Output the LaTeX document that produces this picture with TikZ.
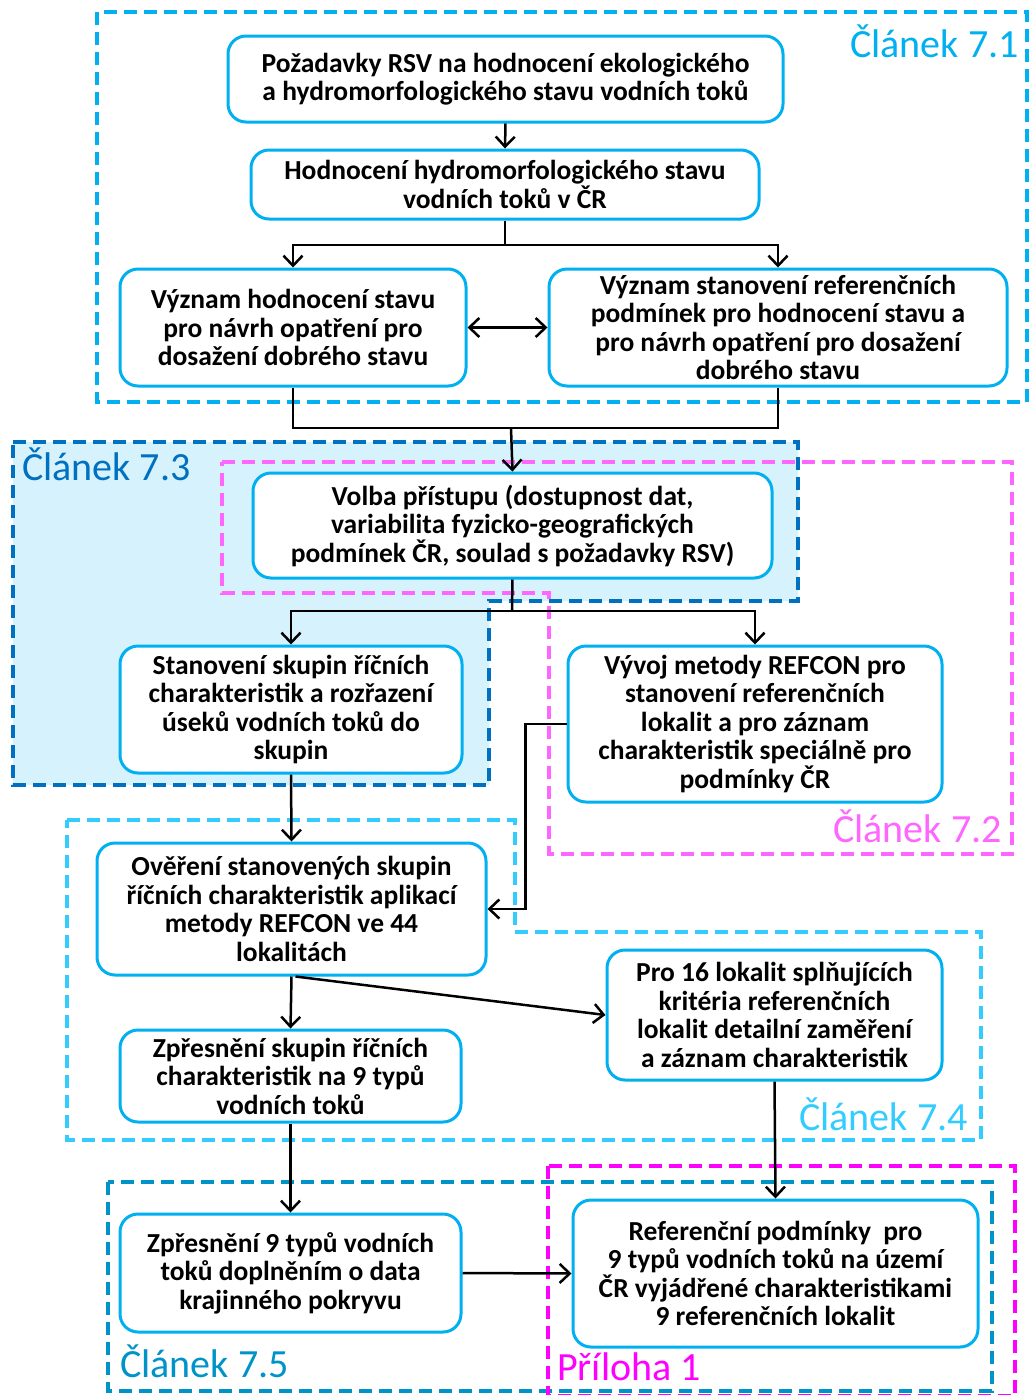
\documentclass[tikz,border=0pt]{standalone}
\usepackage{fontspec}
\setmainfont{Carlito}
\usetikzlibrary{arrows.meta}
\definecolor{boxc}{RGB}{0,176,240}
\definecolor{cA}{RGB}{0,176,240}
\definecolor{cB}{RGB}{0,112,192}
\definecolor{cBfill}{RGB}{214,242,252}
\definecolor{cC}{RGB}{255,102,255}
\definecolor{cD}{RGB}{51,204,255}
\definecolor{cE}{RGB}{0,147,200}
\definecolor{cF}{RGB}{255,0,255}
\tikzset{
  box/.style={draw=boxc, line width=3pt, rounded corners=18pt, fill=white, align=center, inner sep=0pt,
    font=\bfseries\fontsize{27.5}{28.5}\selectfont},
  frame/.style={line width=3.5pt, dash pattern=on 13pt off 7pt},
  lab/.style={inner sep=0pt, font=\fontsize{40}{44}\selectfont},
  conn/.style={line width=2.5pt, draw=black},
  arr/.style={conn, -{Straight Barb[length=10pt,width=19pt]}},
}
\begin{document}
\begin{tikzpicture}[x=1pt,y=-1pt]
\useasboundingbox (0,0) rectangle (1031,1395);
% frames
\filldraw[frame, draw=cB, fill=cBfill] (13,442) -- (798,442) -- (798,601) -- (489,601) -- (489,785) -- (13,785) -- cycle;
\draw[frame, draw=cA] (97,12) rectangle (1027,402);
\draw[frame, draw=cC] (222,462) -- (1012,462) -- (1012,854) -- (549,854) -- (549,593) -- (222,593) -- cycle;
\draw[frame, draw=cD] (67,820) -- (515,820) -- (515,932) -- (981,932) -- (981,1140) -- (67,1140) -- cycle;
\draw[frame, draw=cE] (108,1182) rectangle (992,1391);
\draw[frame, draw=cF] (548,1166) rectangle (1015,1396);
% labels
\node[lab, text=cA, anchor=base east] (l71) at (1019,57) {Článek 7.1};
\node[lab, text=cB, anchor=base west] (l73) at (22,480) {Článek 7.3};
\node[lab, text=cC, anchor=base east] (l72) at (1002,842) {Článek 7.2};
\node[lab, text=cD, anchor=base east] (l74) at (968,1130) {Článek 7.4};
\node[lab, text=cE, anchor=base west] (l75) at (120,1377) {Článek 7.5};
\node[lab, text=cF, anchor=base west] (lp1) at (557,1380) {Příloha 1};
% boxes
\node[box, minimum width=555pt, minimum height=86pt] (A) at (505.5,79) {Požadavky RSV na hodnocení ekologického\\a hydromorfologického stavu vodních toků};
\node[box, minimum width=508pt, minimum height=69pt] (B) at (505,184.5) {Hodnocení hydromorfologického stavu\\vodních toků v ČR};
\node[box, minimum width=346pt, minimum height=117pt] (C) at (293,327.5) {Význam hodnocení stavu\\pro návrh opatření pro\\dosažení dobrého stavu};
\node[box, minimum width=458pt, minimum height=117pt] (D) at (778,327.5) {Význam stanovení referenčních\\podmínek pro hodnocení stavu a\\pro návrh opatření pro dosažení\\dobrého stavu};
\node[box, minimum width=519pt, minimum height=105pt] (E) at (512.5,525.5) {Volba přístupu (dostupnost dat,\\variabilita fyzicko-geografických\\podmínek ČR, soulad s požadavky RSV)};
\node[box, minimum width=342pt, minimum height=127pt] (F) at (291,709.5) {Stanovení skupin říčních\\charakteristik a rozřazení\\úseků vodních toků do\\skupin};
\node[box, minimum width=374pt, minimum height=156pt] (G) at (755,724) {Vývoj metody REFCON pro\\stanovení referenčních\\lokalit a pro záznam\\charakteristik speciálně pro\\podmínky ČR};
\node[box, minimum width=389pt, minimum height=132pt] (H) at (291.5,909) {Ověření stanovených skupin\\říčních charakteristik aplikací\\metody REFCON ve 44\\lokalitách};
\node[box, minimum width=335pt, minimum height=130pt] (I) at (774.5,1015) {Pro 16 lokalit splňujících\\kritéria referenčních\\lokalit detailní zaměření\\a záznam charakteristik};
\node[box, minimum width=341pt, minimum height=92pt] (J) at (290.5,1076) {Zpřesnění skupin říčních\\charakteristik na 9 typů\\vodních toků};
\node[box, minimum width=341pt, minimum height=118pt] (K) at (290.5,1273) {Zpřesnění 9 typů vodních\\toků doplněním o data\\krajinného pokryvu};
\node[box, minimum width=405pt, minimum height=147pt] (L) at (775.5,1273.5) {Referenční podmínky\ \ pro\\9 typů vodních toků na území\\ČR vyjádřené charakteristikami\\9 referenčních lokalit};
% connectors
\coordinate (j1) at (505,245);
\coordinate (j2) at (511,428);
\coordinate (j3) at (512,611);
\draw[arr] (A.south) -- (B.north);
\draw[conn] (B.south) -- (j1);
\draw[arr] (j1) -| (C.north);
\draw[arr] (j1) -| (D.north);
\draw[conn, {Straight Barb[length=10pt,width=19pt]}-{Straight Barb[length=10pt,width=19pt]}] (C.east) -- (D.west);
\draw[conn] (C.south) |- (j2);
\draw[conn] (D.south) |- (j2);
\draw[arr] (j2) -- (E.north);
\draw[conn] (E.south) -- (j3);
\draw[arr] (j3) -| (F.north);
\draw[arr] (j3) -| (G.north);
\draw[arr] (G.west) -- ++(-41,0) |- (H.east);
\draw[arr] (F.south) -- (H.north);
\draw[arr] ([xshift=4pt]H.south) -- (I.west);
\draw[arr] (H.south) -- (J.north);
\draw[arr] (J.south) -- (K.north);
\draw[arr] (I.south) -- (L.north);
\draw[arr] (K.east) -- (L.west);
\end{tikzpicture}
\end{document}
